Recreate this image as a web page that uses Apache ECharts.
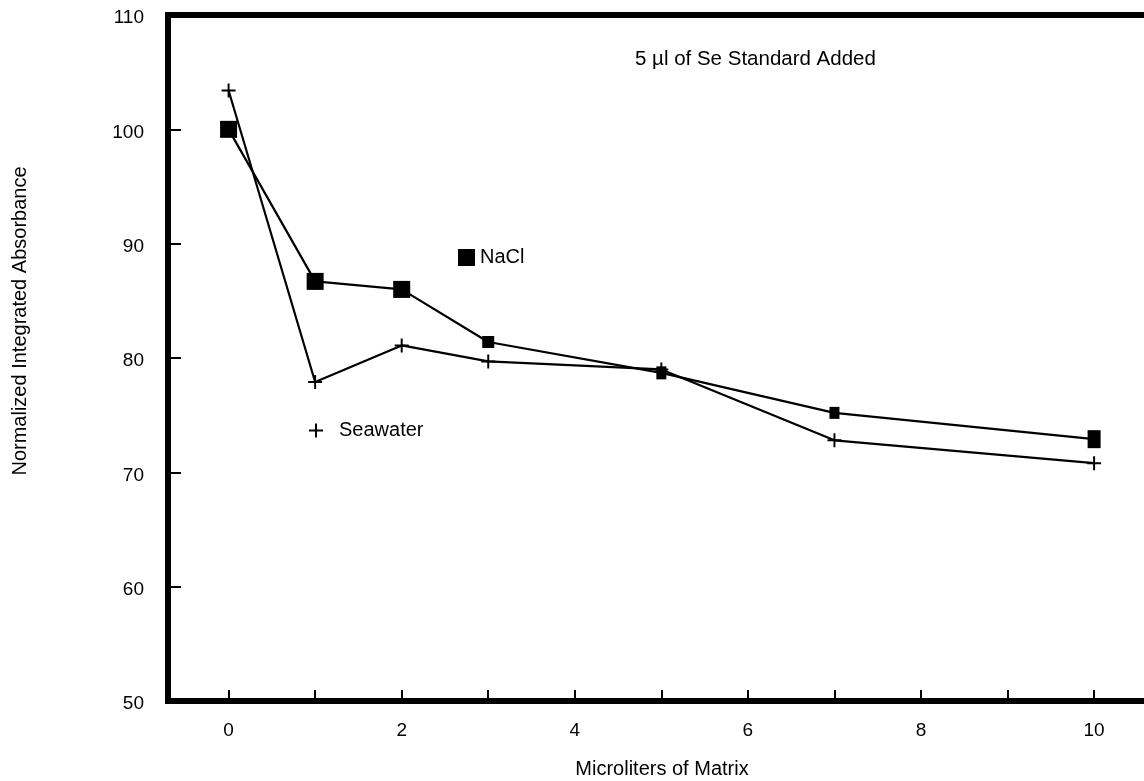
<!DOCTYPE html>
<html>
<head>
<meta charset="utf-8">
<script src="https://cdn.jsdelivr.net/npm/echarts@6/dist/echarts.min.js"></script>
<style>html,body{margin:0;padding:0;background:#fff;}#c{width:1144px;height:781px;}</style>
</head>
<body>
<div id="c"></div>
<script>
const xValues = [0, 1, 2, 3, 5, 7, 10];
const naclValues = [100.0, 86.7, 86.0, 81.4, 78.7, 75.2, 72.9];
const seawaterValues = [103.4, 77.9, 81.1, 79.7, 79.0, 72.8, 70.8];
const xTickValues = [0, 1, 2, 3, 4, 5, 6, 7, 8, 9, 10];
const xLabelValues = [0, 2, 4, 6, 8, 10];
const seriesNames = ['NaCl', 'Seawater'];
const titleText = '5 µl of Se Standard Added';
const xAxisTitle = 'Microliters of Matrix';
const yAxisTitle = 'Normalized Integrated Absorbance';

const FONT = "'Liberation Sans', Arial, Helvetica, sans-serif";
const PLUS = 'path://M-0.14,-1 L0.14,-1 L0.14,-0.14 L1,-0.14 L1,0.14 L0.14,0.14 L0.14,1 L-0.14,1 L-0.14,0.14 L-1,0.14 L-1,-0.14 L-0.14,-0.14 Z';
const naclSymbolSizes = [[17,17],[17,17],[17,17],[12,12],[10,13],[10,12],[13,18]];

const chart = echarts.init(document.getElementById('c'), null, {renderer: 'canvas'});
chart.setOption({
  backgroundColor: '#fff',
  animation: false,
  textStyle: {fontFamily: FONT, color: '#000'},
  title: {
    text: titleText, left: 630, top: 44,
    textStyle: {fontFamily: FONT, fontSize: 20.5, fontWeight: 'normal', color: '#000'}
  },
  legend: [
    {
      data: [{name: seriesNames[0], icon: 'rect'}],
      left: 458, top: 247.5, itemWidth: 17, itemHeight: 17, selectedMode: false, padding: 0,
      textStyle: {fontFamily: FONT, fontSize: 20, color: '#000'}
    },
    {
      data: [{name: seriesNames[1], icon: PLUS}],
      left: 309, top: 420.5, itemWidth: 14, itemHeight: 14, selectedMode: false, padding: 0,
      textStyle: {fontFamily: FONT, fontSize: 20, color: '#000', padding: [0, 0, 0, 11]}
    }
  ],
  grid: {
    left: 168, top: 15, bottom: 80, right: -28,
    show: true, borderColor: '#000', borderWidth: 6, backgroundColor: 'transparent',
    containLabel: false, outerBoundsMode: 'none'
  },
  xAxis: {
    type: 'value', min: -0.7, max: 10.9,
    name: xAxisTitle, nameLocation: 'middle', nameGap: 58,
    nameTextStyle: {fontFamily: FONT, fontSize: 20, color: '#000', padding: [0, 16, 0, 0]},
    axisLine: {show: true, onZero: false, lineStyle: {color: '#000', width: 6}},
    axisTick: {show: true, inside: true, length: 11, customValues: xTickValues, lineStyle: {color: '#000', width: 2}},
    axisLabel: {show: true, customValues: xLabelValues, fontFamily: FONT, fontSize: 19, color: '#000', margin: 20},
    splitLine: {show: false}
  },
  yAxis: {
    type: 'value', min: 50, max: 110, interval: 10,
    name: yAxisTitle, nameLocation: 'middle', nameGap: 138,
    nameTextStyle: {fontFamily: FONT, fontSize: 20, color: '#000', padding: [0, 0, 0, 74]},
    axisLine: {show: true, onZero: false, lineStyle: {color: '#000', width: 6}},
    axisTick: {show: true, inside: true, length: 13, lineStyle: {color: '#000', width: 2}},
    axisLabel: {
      margin: 24, formatter: '{t|{value}}',
      rich: {t: {fontFamily: FONT, fontSize: 19, color: '#000', padding: [6, 0, 0, 0]}}
    },
    splitLine: {show: false}
  },
  series: [
    {
      name: seriesNames[0], type: 'line',
      data: xValues.map((x, i) => [x, naclValues[i]]),
      symbol: 'rect',
      symbolSize: (v, p) => naclSymbolSizes[p.dataIndex],
      lineStyle: {color: '#000', width: 2.2},
      itemStyle: {color: '#000'},
      z: 3
    },
    {
      name: seriesNames[1], type: 'line',
      data: xValues.map((x, i) => [x, seawaterValues[i]]),
      symbol: PLUS, symbolSize: 14,
      lineStyle: {color: '#000', width: 2.2},
      itemStyle: {color: '#000'},
      z: 2
    }
  ]
});
</script>
</body>
</html>
